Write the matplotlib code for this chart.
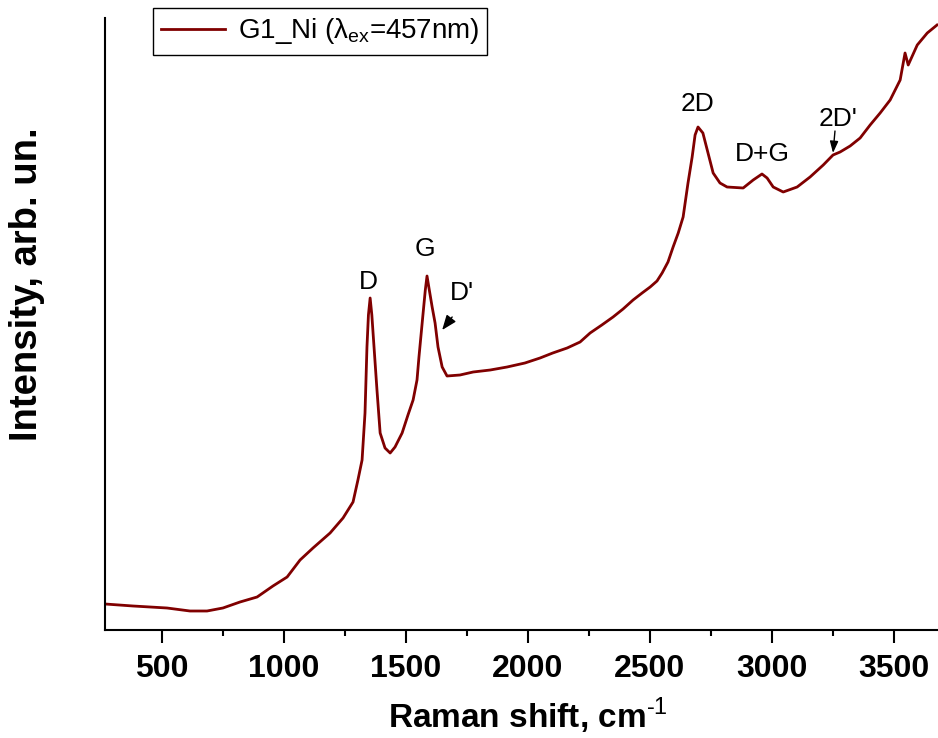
"""
Raman spectrum of G1_Ni sample (457 nm excitation)
"""
import matplotlib
matplotlib.use("Agg")
import matplotlib.pyplot as plt
from matplotlib.ticker import MultipleLocator

# Spectrum (arb. units)
raman_shift = [268, 383, 522, 616, 686, 751, 821, 891, 956, 1014, 1067, 1120,
               1190, 1243, 1284, 1304, 1321, 1333, 1341, 1347, 1354, 1361, 1366,
               1382, 1395, 1415, 1436, 1456, 1485, 1509, 1530, 1546, 1554, 1571,
               1580, 1587, 1595, 1608, 1620, 1632, 1649, 1669, 1722, 1776, 1846,
               1915, 1988, 2050, 2102, 2161, 2214, 2255, 2303, 2349, 2390, 2431,
               2468, 2501, 2529, 2550, 2574, 2595, 2616, 2636, 2656, 2673, 2685,
               2697, 2717, 2738, 2759, 2787, 2816, 2882, 2923, 2959, 2980, 3005,
               3046, 3103, 3156, 3210, 3250, 3279, 3320, 3361, 3402, 3443, 3484,
               3525, 3545, 3558, 3595, 3636, 3676]
intensity = [260, 240, 220, 190, 190, 220, 280, 330, 440, 530, 700, 820,
             970, 1120, 1280, 1500, 1700, 2170, 2830, 3150, 3320, 3150, 2970,
             2400, 1970, 1820, 1770, 1830, 1970, 2150, 2300, 2500, 2730, 3170,
             3400, 3540, 3420, 3230, 3070, 2830, 2630, 2540, 2550, 2580, 2600,
             2630, 2670, 2720, 2770, 2820, 2880, 2970, 3050, 3130, 3210, 3300,
             3370, 3430, 3490, 3570, 3680, 3830, 3970, 4130, 4470, 4730, 4950,
             5030, 4970, 4770, 4570, 4470, 4430, 4420, 4500, 4560, 4520, 4430,
             4380, 4430, 4530, 4650, 4750, 4780, 4840, 4920, 5050, 5170, 5300,
             5500, 5770, 5650, 5850, 5970, 6050]

# Peak labels
peak_names = ["D", "G", "D'", "2D", "D+G", "2D'"]
peak_label_x = [1345, 1579, 1730, 2693, 2959, 3270]
peak_label_y = [3480, 3810, 3370, 5260, 4760, 5110]

# Arrows: (tip, tail) for D' and 2D'
arrow_tips = [(1649, 3000), (3250, 4770)]
arrow_tails = [(1690, 3130), (3258, 4990)]

plt.rcParams['font.family'] = ['Liberation Sans', 'DejaVu Sans']
plt.rcParams['mathtext.fontset'] = 'custom'
plt.rcParams['mathtext.rm'] = 'Liberation Sans'
plt.rcParams['mathtext.bf'] = 'Liberation Sans:bold'

LINE_COLOR = '#800000'

fig = plt.figure(figsize=(9.38, 7.38), dpi=100)
ax = fig.add_axes([105 / 938, 108 / 738, 833 / 938, 612 / 738])

ax.plot(raman_shift, intensity, color=LINE_COLOR, linewidth=2.0,
        solid_joinstyle='round',
        label=r'G1_Ni ($\mathregular{λ_{ex}}$=457nm)')

for name, lx, ly in zip(peak_names, peak_label_x, peak_label_y):
    ax.text(lx, ly, name, fontsize=19, ha='center', va='center')

# D' arrow is only a head, 2D' has a short shaft
ax.annotate('', xy=arrow_tips[0], xytext=arrow_tails[0],
            arrowprops=dict(arrowstyle='-|>,head_length=0.9,head_width=0.35',
                            color='black', lw=1, shrinkA=0, shrinkB=0))
ax.annotate('', xy=arrow_tips[1], xytext=arrow_tails[1],
            arrowprops=dict(arrowstyle='-|>,head_length=0.7,head_width=0.25',
                            color='black', lw=1, shrinkA=0, shrinkB=0))

ax.set_xlim(268, 3680)
ax.set_ylim(0, 6120)

ax.spines['top'].set_visible(False)
ax.spines['right'].set_visible(False)
ax.spines['left'].set_linewidth(1.5)
ax.spines['bottom'].set_linewidth(1.5)

ax.set_yticks([])
ax.xaxis.set_major_locator(MultipleLocator(500))
ax.xaxis.set_minor_locator(MultipleLocator(250))
ax.tick_params(axis='x', which='major', direction='out', length=9, width=1.5,
               pad=8, labelsize=23)
ax.tick_params(axis='x', which='minor', direction='out', length=4, width=1.5)
for lbl in ax.get_xticklabels():
    lbl.set_fontweight('bold')

ax.set_xlabel(r'Raman shift, cm$^{\text{-1}}$', fontsize=24, fontweight='bold')
ax.set_ylabel('Intensity, arb. un.', fontsize=27.5, fontweight='bold')
ax.xaxis.set_label_coords(0.508, -0.108)
ax.yaxis.set_label_coords(-0.072, 0.565)

leg = ax.legend(loc='upper left', bbox_to_anchor=(153 / 938, 1 - 8 / 738),
                bbox_transform=fig.transFigure, borderaxespad=0,
                fontsize=20, handlelength=2.3, handletextpad=0.45,
                borderpad=0.3, fancybox=False,
                edgecolor='black', framealpha=1)
leg.get_frame().set_linewidth(1.0)

fig.savefig('out.png', dpi=100)
